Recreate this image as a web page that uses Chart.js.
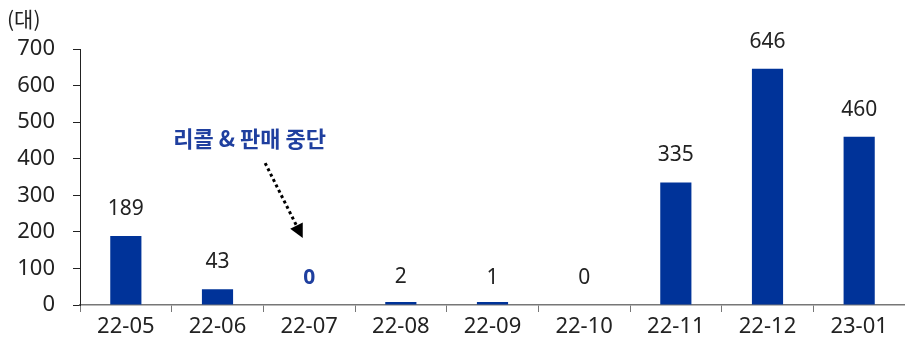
<!DOCTYPE html>
<html><head><meta charset="utf-8">
<script src="https://cdn.jsdelivr.net/npm/chart.js@4"></script>
<style>html,body{margin:0;padding:0;background:#fff}#wrap{width:905px;height:341px;position:relative}</style>
</head><body><div id="wrap"><canvas id="c" width="905" height="341"></canvas></div>
<script>
const categories = ['22-05','22-06','22-07','22-08','22-09','22-10','22-11','22-12','23-01'];
const values = [189, 43, 0, 2, 1, 0, 335, 646, 460];
const yTicks = [0,100,200,300,400,500,600,700];
const unitLabel = '(대)';
const annotationText = '리콜 & 판매 중단';
const highlightIndex = 2;

const BLUE = '#003399';
const NOTE = '#1f3f9f';
const FONT = "'Noto Sans','Noto Sans CJK KR',sans-serif";

const labelsPlugin = {
  id: 'labels',
  afterDatasetsDraw(chart) {
    const ctx = chart.ctx;
    const meta = chart.getDatasetMeta(0);
    const x = chart.scales.x, y = chart.scales.y;
    ctx.save();
    ctx.textAlign = 'center';
    ctx.textBaseline = 'middle';
    meta.data.forEach((bar, i) => {
      const top = y.getPixelForValue(values[i]);
      if (i === highlightIndex) { ctx.fillStyle = NOTE; ctx.font = "bold 21px " + FONT; }
      else { ctx.fillStyle = '#222'; ctx.font = "21px " + FONT; }
      ctx.fillText(String(values[i]), bar.x, top - 27);
    });
    // unit label
    ctx.fillStyle = '#222';
    ctx.font = "21px 'Noto Sans CJK KR'," + FONT;
    ctx.textAlign = 'left';
    ctx.fillText(unitLabel, 7, 19);
    // annotation
    ctx.fillStyle = NOTE;
    ctx.font = "bold 22px 'Noto Sans CJK KR'," + FONT;
    ctx.textAlign = 'center';
    ctx.fillText(annotationText, x.getPixelForValue(1.35), y.getPixelForValue(456));
    // dotted arrow
    const x0 = x.getPixelForValue(1.52), y0 = y.getPixelForValue(388);
    const x1 = x.getPixelForValue(1.93), y1 = y.getPixelForValue(183);
    const ang = Math.atan2(y1 - y0, x1 - x0);
    const headLen = 14;
    const bx = x1 - headLen * Math.cos(ang), by = y1 - headLen * Math.sin(ang);
    ctx.strokeStyle = '#000';
    ctx.lineWidth = 3;
    ctx.setLineDash([3, 3]);
    ctx.beginPath(); ctx.moveTo(x0, y0); ctx.lineTo(bx, by); ctx.stroke();
    ctx.setLineDash([]);
    ctx.fillStyle = '#000';
    ctx.beginPath();
    ctx.moveTo(x1, y1);
    ctx.lineTo(bx + 7 * Math.sin(ang), by - 7 * Math.cos(ang));
    ctx.lineTo(bx - 7 * Math.sin(ang), by + 7 * Math.cos(ang));
    ctx.closePath(); ctx.fill();
    ctx.restore();
  }
};

new Chart(document.getElementById('c'), {
  type: 'bar',
  data: { labels: categories, datasets: [{
    data: values,
    backgroundColor: (c) => (values[c.dataIndex] === 0 ? 'rgba(0,0,0,0)' : BLUE),
    borderWidth: 0, barPercentage: 0.34, categoryPercentage: 1, minBarLength: 3 }] },
  options: {
    responsive: false, animation: false, devicePixelRatio: 1,
    layout: { padding: { top: 49, right: 0, left: 0, bottom: 0 } },
    plugins: { legend: { display: false }, tooltip: { enabled: false } },
    scales: {
      x: {
        grid: { offset: true, drawOnChartArea: false, drawTicks: true, tickLength: 7, color: '#777' },
        border: { display: true, color: '#777', width: 1.5 },
        ticks: { color: '#222', font: { family: FONT, size: 22 }, padding: 2, maxRotation: 0 },
        afterFit(s) { s.height = 36; }
      },
      y: {
        min: 0, max: 700,
        afterBuildTicks(s) { s.ticks = yTicks.map(v => ({ value: v })); },
        grid: { drawOnChartArea: false, drawTicks: true, tickLength: 7, color: '#222' },
        border: { display: true, color: '#222', width: 1 },
        ticks: { color: '#222', font: { family: FONT, size: 22 }, padding: 18 },
        afterFit(s) { s.width = 80; }
      }
    }
  },
  plugins: [labelsPlugin]
});
</script></body></html>
